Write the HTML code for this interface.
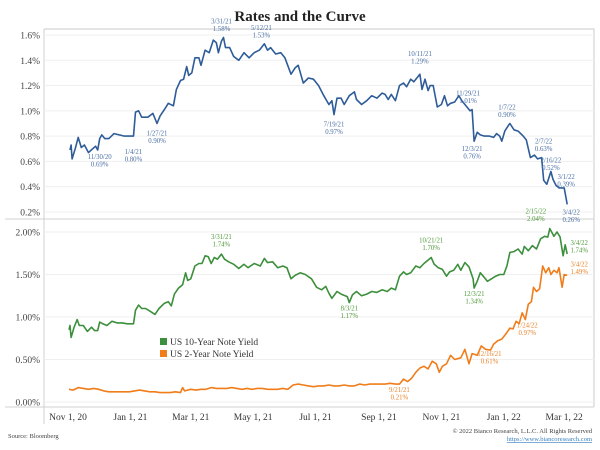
<!DOCTYPE html>
<html><head><meta charset="utf-8"><style>
body{margin:0;background:#fff;}
svg{display:block;font-family:"Liberation Serif",serif;}
</style></head><body>
<svg id="c" width="600" height="450" viewBox="0 0 600 450">
<text x="300" y="21" text-anchor="middle" font-size="15" font-weight="bold" fill="#222">Rates and the Curve</text>
<g id="frame"></g><g id="grid"></g><g id="lines"></g><g id="ann"></g>
<g>
<rect x="160" y="338" width="7" height="7" fill="#3c8f3c"/>
<text x="170" y="345" font-size="9.5" fill="#333">US 10-Year Note Yield</text>
<rect x="160" y="350" width="7" height="7" fill="#f07d1a"/>
<text x="170" y="357" font-size="9.5" fill="#333">US 2-Year Note Yield</text>
</g>
<text x="8" y="438" font-size="6.5" fill="#444">Source: Bloomberg</text>
<text x="592" y="433" font-size="6.5" fill="#444" text-anchor="end">© 2022 Bianco Research, L.L.C. All Rights Reserved</text>
<text x="592" y="441" font-size="6.5" fill="#3a7fc0" text-anchor="end" text-decoration="underline">https://www.biancoresearch.com</text>
</svg>
<script>
const xTickLabels=["Nov 1, 20","Jan 1, 21","Mar 1, 21","May 1, 21","Jul 1, 21","Sep 1, 21","Nov 1, 21","Jan 1, 22","Mar 1, 22"];
const xTickDays=[0,61,120,181,242,304,365,426,485];
const topTicks=[0.2,0.4,0.6,0.8,1.0,1.2,1.4,1.6];
const botTicks=[0,0.5,1.0,1.5,2.0];
const curveDays=[2,3,4,7,10,13,16,20,24,27,29,31,33,36,40,45,50,55,60,64,66,69,72,78,83,87,90,95,98,103,106,110,113,116,118,121,124,128,130,134,138,142,145,147,150,152,154,158,162,167,172,177,182,187,192,195,198,203,208,212,218,222,225,230,235,240,245,250,255,258,260,263,267,270,275,280,282,287,292,297,302,307,310,313,316,320,324,328,331,335,338,344,346,349,352,354,357,361,365,368,371,374,378,382,385,388,393,395,397,400,403,407,412,416,419,422,424,427,431,432,436,440,445,448,452,456,459,463,465,468,472,474,477,480,485,488];
const curveVals=[0.69,0.73,0.62,0.70,0.79,0.71,0.73,0.67,0.70,0.72,0.69,0.78,0.81,0.78,0.78,0.82,0.81,0.80,0.80,0.80,0.99,1.00,0.95,0.95,0.98,0.90,0.96,1.02,1.06,1.04,1.17,1.24,1.25,1.35,1.28,1.30,1.42,1.42,1.36,1.48,1.46,1.56,1.54,1.46,1.55,1.58,1.50,1.50,1.43,1.40,1.46,1.42,1.46,1.48,1.53,1.48,1.50,1.45,1.46,1.42,1.29,1.34,1.36,1.22,1.26,1.25,1.20,1.12,1.05,1.08,0.97,1.10,1.10,1.05,1.12,1.15,1.09,1.05,1.08,1.12,1.10,1.14,1.13,1.09,1.13,1.08,1.20,1.22,1.19,1.25,1.23,1.29,1.17,1.25,1.16,1.20,1.20,1.03,1.05,1.12,1.04,1.06,1.07,1.12,1.08,1.05,1.00,1.01,0.76,0.83,0.81,0.80,0.80,0.79,0.82,0.80,0.76,0.84,0.89,0.90,0.85,0.84,0.80,0.77,0.63,0.65,0.62,0.63,0.45,0.42,0.52,0.46,0.41,0.39,0.39,0.26];
const y10Days=[1,2,3,6,9,11,15,19,23,26,29,31,34,38,43,48,53,58,62,64,66,69,72,76,80,85,89,94,98,101,104,108,112,115,117,120,124,128,131,134,137,140,143,146,150,153,157,162,167,172,176,182,188,192,195,200,205,210,214,218,222,227,232,238,243,248,252,255,258,263,267,273,275,278,282,287,292,297,302,307,312,316,320,324,328,331,335,340,344,348,355,358,362,366,370,373,377,381,384,388,392,396,397,400,403,406,410,414,418,422,426,429,432,436,440,444,446,450,454,458,462,466,469,471,475,478,481,484,486,488];
const y10Vals=[0.85,0.90,0.76,0.88,0.97,0.90,0.90,0.83,0.88,0.84,0.84,0.94,0.92,0.90,0.95,0.93,0.93,0.92,0.92,0.92,1.08,1.14,1.10,1.10,1.07,1.03,1.10,1.16,1.18,1.13,1.27,1.34,1.38,1.52,1.43,1.45,1.60,1.63,1.63,1.72,1.71,1.63,1.70,1.68,1.74,1.68,1.65,1.62,1.57,1.62,1.58,1.63,1.60,1.69,1.64,1.65,1.58,1.60,1.58,1.45,1.49,1.52,1.50,1.45,1.35,1.32,1.36,1.28,1.22,1.30,1.27,1.24,1.17,1.26,1.30,1.25,1.27,1.30,1.29,1.32,1.30,1.34,1.32,1.48,1.53,1.50,1.52,1.60,1.58,1.63,1.70,1.62,1.58,1.56,1.48,1.53,1.55,1.62,1.55,1.64,1.59,1.45,1.34,1.42,1.52,1.48,1.42,1.45,1.48,1.50,1.50,1.60,1.76,1.77,1.80,1.74,1.83,1.78,1.84,1.80,1.92,1.95,1.94,2.04,1.95,2.00,1.94,1.72,1.85,1.74];
const y2Days=[1,5,10,15,20,25,30,35,40,45,50,55,60,65,70,75,80,85,90,95,100,105,110,112,114,120,125,130,135,140,145,150,155,160,165,170,175,180,185,190,195,200,205,210,215,220,225,230,235,240,245,250,255,260,265,270,275,280,285,290,295,300,305,310,315,320,324,328,332,336,340,344,348,352,356,360,363,366,370,374,378,384,388,392,395,400,404,408,413,416,420,424,428,432,435,438,441,444,447,450,453,455,458,461,464,467,470,472,475,478,480,483,485,488];
const y2Vals=[0.15,0.14,0.17,0.16,0.15,0.16,0.15,0.13,0.12,0.12,0.12,0.12,0.12,0.13,0.14,0.13,0.12,0.12,0.11,0.11,0.11,0.12,0.11,0.17,0.13,0.15,0.14,0.15,0.15,0.17,0.16,0.16,0.16,0.17,0.16,0.15,0.16,0.15,0.16,0.16,0.15,0.15,0.15,0.16,0.15,0.20,0.21,0.20,0.19,0.18,0.19,0.19,0.20,0.19,0.19,0.20,0.19,0.19,0.21,0.20,0.21,0.21,0.21,0.21,0.22,0.21,0.21,0.27,0.24,0.28,0.35,0.40,0.42,0.39,0.48,0.45,0.35,0.42,0.45,0.55,0.50,0.52,0.62,0.45,0.57,0.55,0.66,0.62,0.61,0.68,0.72,0.74,0.80,0.87,0.86,0.95,0.92,1.05,0.97,1.15,1.18,1.35,1.30,1.33,1.60,1.52,1.58,1.50,1.55,1.52,1.58,1.35,1.50,1.49];
const annTop=[[29,0.69,"11/30/20","0.69%"],[64,0.80,"1/4/21","0.80%"],[87,0.90,"1/27/21","0.90%"],[152,1.58,"3/31/21","1.58%"],[192,1.53,"5/12/21","1.53%"],[260,0.97,"7/19/21","0.97%"],[344,1.29,"10/11/21","1.29%"],[393,1.01,"11/29/21","1.01%"],[397,0.76,"12/3/21","0.76%"],[432,0.90,"1/7/22","0.90%"],[463,0.63,"2/7/22","0.63%"],[472,0.52,"2/16/22","0.52%"],[485,0.39,"3/1/22","0.39%"],[488,0.26,"3/4/22","0.26%"]];
const annTopOff=[[2,9],[0,18],[0,12],[-2,-14],[-3,-14],[0,12],[0,-18],[-2,-14],[-2,10],[-3,-14],[2,-14],[0,-9],[2,-9],[4,10]];
const ann10=[[150,1.74,"3/31/21","1.74%"],[275,1.17,"8/3/21","1.17%"],[355,1.70,"10/21/21","1.70%"],[397,1.34,"12/3/21","1.34%"],[471,2.04,"2/15/22","2.04%"],[488,1.74,"3/4/22","1.74%"]];
const ann10Off=[[0,-15],[0,8],[0,-15],[0,8],[-14,-15],[12,-9]];
const ann2=[[324,0.21,"9/21/21","0.21%"],[413,0.61,"12/16/21","0.61%"],[449,0.97,"1/24/22","0.97%"],[488,1.49,"3/4/22","1.49%"]];
const ann2Off=[[0,8],[-1,6],[0,8],[12,-9]];

const NS="http://www.w3.org/2000/svg";
const X=d=>68+d*1.023;
const YT=v=>35+(1.6-v)*126.4;
const YB=v=>402-v*85;
function mk(t,a,p){const e=document.createElementNS(NS,t);for(const k in a)e.setAttribute(k,a[k]);(p||document.getElementById('c')).appendChild(e);return e;}
const fr=document.getElementById('frame'),gr=document.getElementById('grid'),ln=document.getElementById('lines'),an=document.getElementById('ann');
let e;
e=mk('path',{d:'M44 29H594V407',fill:'none',stroke:'#d4d4d4','stroke-width':1.2},fr);


e=mk('line',{x1:5,y1:219,x2:594,y2:219,stroke:'#d0d0d0','stroke-width':1},fr);


e=mk('line',{x1:44,y1:29,x2:44,y2:424,stroke:'#d0d0d0','stroke-width':1},fr);


e=mk('line',{x1:5,y1:407,x2:594,y2:407,stroke:'#d0d0d0','stroke-width':1},fr);


topTicks.forEach(v=>{
  e=mk('line',{x1:44,x2:594,y1:YT(v),y2:YT(v),stroke:'#efefef'},gr);
  
  
  e=mk('text',{x:40,y:YT(v)+3.5,'text-anchor':'end','font-size':9.5,fill:'#444'},gr);
  e.textContent=v.toFixed(1)+'%';
  
  
});
botTicks.forEach(v=>{
  e=mk('line',{x1:44,x2:594,y1:YB(v),y2:YB(v),stroke:'#efefef'},gr);
  
  
  e=mk('text',{x:40,y:YB(v)+3.5,'text-anchor':'end','font-size':9.5,fill:'#444'},gr);
  e.textContent=v.toFixed(2)+'%';
  
  
});
xTickLabels.forEach((l,i)=>{
  e=mk('text',{x:X(xTickDays[i]),y:420,'text-anchor':'middle','font-size':9.5,fill:'#333'},gr);
  e.textContent=l;
  
  
});
function line(days,vals,Y,col,name){
  const d=days.map((dd,i)=>(i?'L':'M')+X(dd).toFixed(1)+' '+Y(vals[i]).toFixed(1)).join('');
  const p=mk('path',{d:d,fill:'none',stroke:col,'stroke-width':1.6,'stroke-linejoin':'round'},ln);
  
  
}
line(curveDays,curveVals,YT,'#2e5c99','curve-line');
line(y10Days,y10Vals,YB,'#3c8f3c','us10y-line');
line(y2Days,y2Vals,YB,'#f07d1a','us2y-line');
function anns(arr,off,Y,col){
  arr.forEach((a,i)=>{
    const x=X(a[0])+off[i][0],y=Y(a[1])+off[i][1];
    const t=mk('text',{x:x,y:y,'text-anchor':'middle','font-size':6.8,fill:col},an);
    
    
    const s1=mk('tspan',{x:x,dy:0},t);s1.textContent=a[2];
    const s2=mk('tspan',{x:x,dy:7.5},t);s2.textContent=a[3];
  });
}
anns(annTop,annTopOff,YT,'#4a6fa5');
anns(ann10,ann10Off,YB,'#4f9a3a');
anns(ann2,ann2Off,YB,'#e8832a');
</script>
</body></html>
